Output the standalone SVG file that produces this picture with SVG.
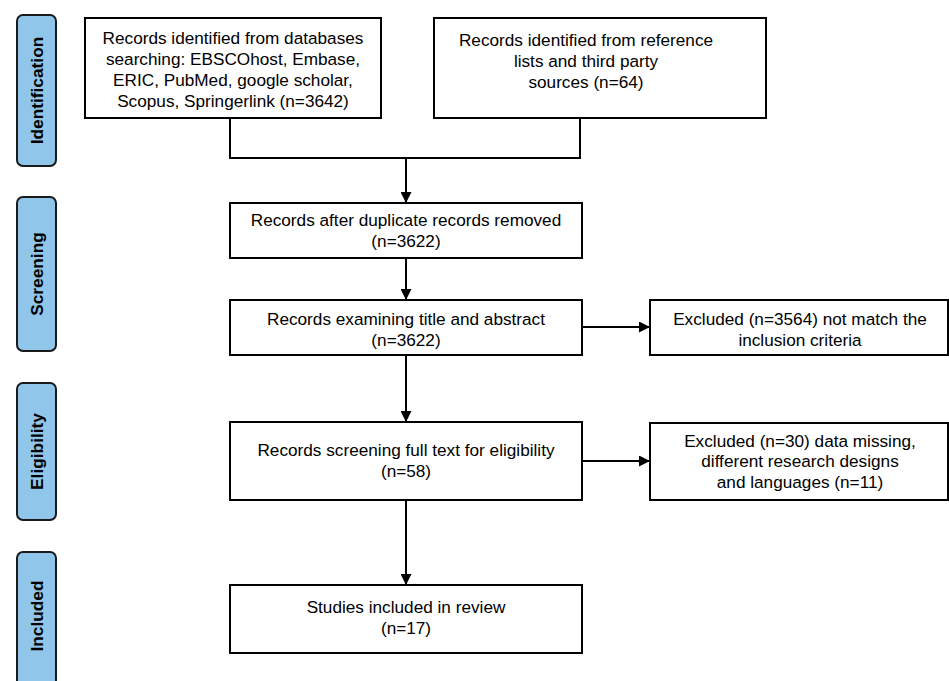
<svg xmlns="http://www.w3.org/2000/svg" width="949" height="681" viewBox="0 0 949 681">
<defs>
<marker id="ah" markerWidth="11" markerHeight="11" refX="10" refY="5.5" orient="auto" markerUnits="userSpaceOnUse">
<path d="M0,0 L11,5.5 L0,11 Z" fill="#000"/>
</marker>
<style>
.box{fill:#fff;stroke:#000;stroke-width:2}
.side{fill:#8fc6ea;stroke:#1a1a1a;stroke-width:2}
.t{font-family:"Liberation Sans",Arial,sans-serif;font-size:17.2px;fill:#000;text-anchor:middle}
.s{font-family:"Liberation Sans",Arial,sans-serif;font-size:17.3px;font-weight:bold;fill:#000;text-anchor:middle}
.c{fill:none;stroke:#000;stroke-width:2}
</style>
</defs>
<rect width="949" height="681" fill="#fff"/>
<g id="side-identification"><rect class="side" x="17" y="15" width="39" height="151" rx="6"/><text class="s" transform="translate(43,90.5) rotate(-90)">Identification</text></g>
<g id="side-screening"><rect class="side" x="17" y="197" width="39" height="154" rx="6"/><text class="s" transform="translate(43,274) rotate(-90)">Screening</text></g>
<g id="side-eligibility"><rect class="side" x="17" y="383" width="39" height="137" rx="6"/><text class="s" transform="translate(43,451.5) rotate(-90)">Eligibility</text></g>
<g id="side-included"><rect class="side" x="17" y="552" width="39" height="140" rx="6"/><text class="s" transform="translate(43,616) rotate(-90)">Included</text></g>

<g id="n-databases"><rect class="box" x="85" y="18" width="296" height="100"/>
<text class="t" x="233" y="44">Records identified from databases</text>
<text class="t" x="233" y="65">searching: EBSCOhost, Embase,</text>
<text class="t" x="233" y="86">ERIC, PubMed, google scholar,</text>
<text class="t" x="233" y="107">Scopus, Springerlink (n=3642)</text></g>
<g id="n-reference"><rect class="box" x="434" y="18" width="332" height="100"/>
<text class="t" x="586" y="46">Records identified from reference</text>
<text class="t" x="586" y="67">lists and third party</text>
<text class="t" x="586" y="88">sources (n=64)</text></g>
<g id="n-duplicates"><rect class="box" x="230" y="203" width="352" height="55"/>
<text class="t" x="406" y="226">Records after duplicate records removed</text>
<text class="t" x="406" y="247">(n=3622)</text></g>
<g id="n-title"><rect class="box" x="230" y="300" width="352" height="55"/>
<text class="t" x="406" y="325">Records examining title and abstract</text>
<text class="t" x="406" y="346">(n=3622)</text></g>
<g id="n-excl1"><rect class="box" x="650" y="300" width="298" height="55"/>
<text class="t" x="800" y="325">Excluded (n=3564) not match the</text>
<text class="t" x="800" y="346">inclusion criteria</text></g>
<g id="n-fulltext"><rect class="box" x="230" y="422" width="352" height="78"/>
<text class="t" x="406" y="456">Records screening full text for eligibility</text>
<text class="t" x="406" y="477">(n=58)</text></g>
<g id="n-excl2"><rect class="box" x="650" y="423" width="298" height="77"/>
<text class="t" x="800" y="447">Excluded (n=30) data missing,</text>
<text class="t" x="800" y="467">different research designs</text>
<text class="t" x="800" y="488">and languages (n=11)</text></g>
<g id="n-included"><rect class="box" x="230" y="585" width="352" height="68"/>
<text class="t" x="406" y="613">Studies included in review</text>
<text class="t" x="406" y="634">(n=17)</text></g>

<g id="connectors">
<path class="c" d="M230,118 V158 H580 V118"/>
<path class="c" d="M406,158 V202" marker-end="url(#ah)"/>
<path class="c" d="M406,258 V299" marker-end="url(#ah)"/>
<path class="c" d="M582,327 H649" marker-end="url(#ah)"/>
<path class="c" d="M406,355 V421" marker-end="url(#ah)"/>
<path class="c" d="M582,461 H649" marker-end="url(#ah)"/>
<path class="c" d="M406,500 V584" marker-end="url(#ah)"/>
</g>
</svg>
